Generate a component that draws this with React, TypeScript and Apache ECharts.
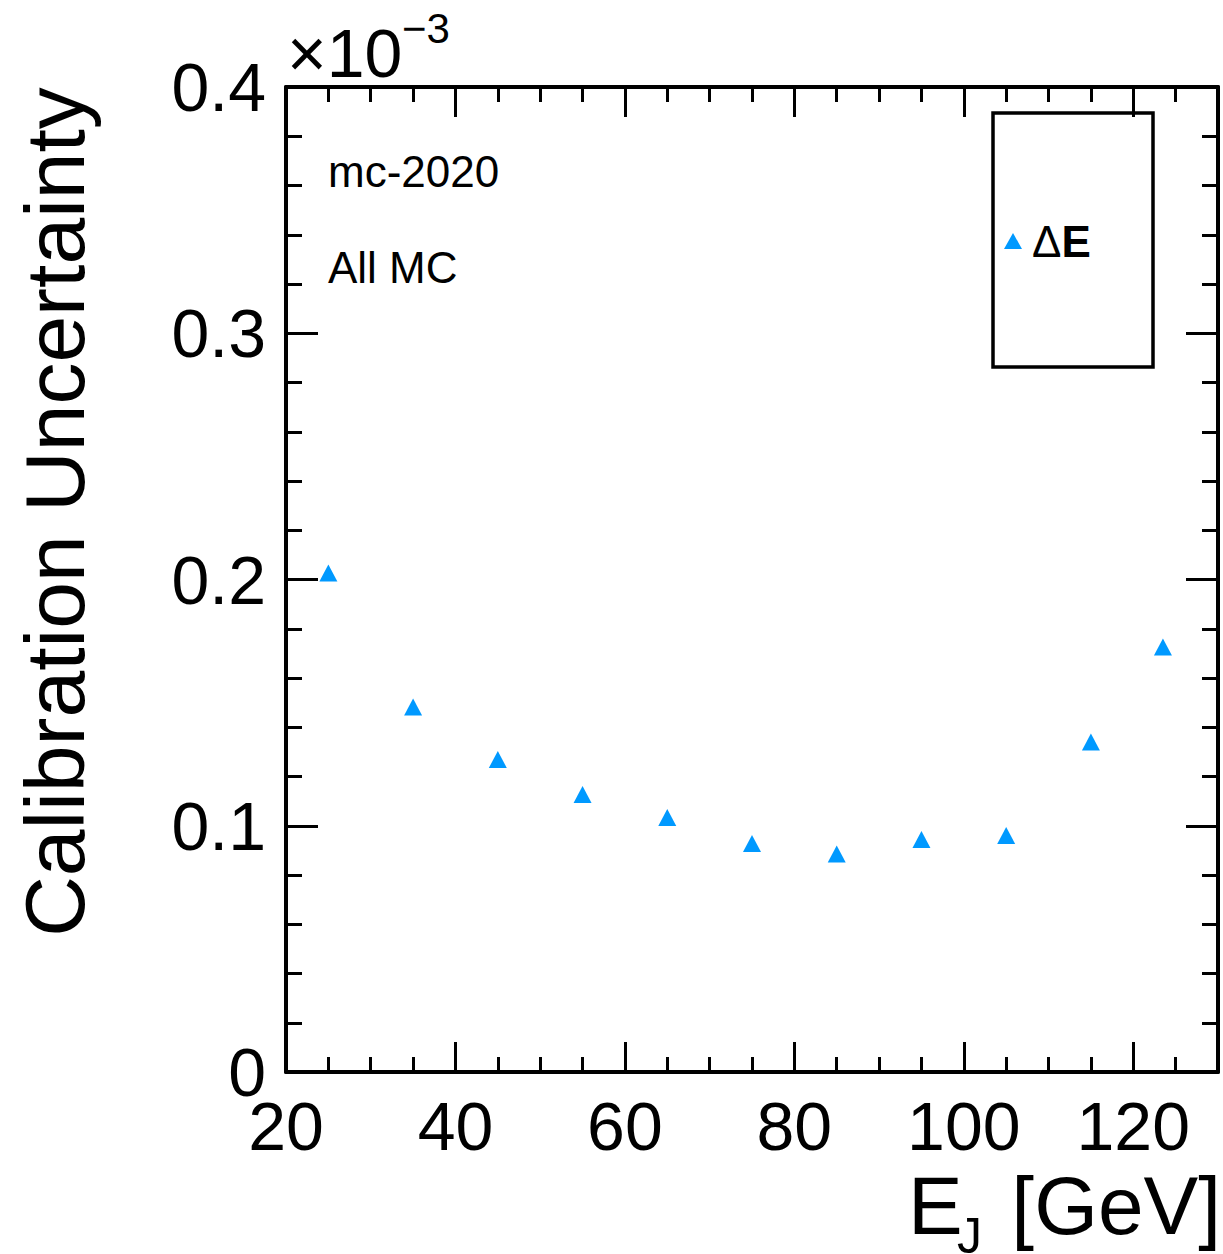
import React, { useEffect, useRef } from "react";
import * as echarts from "echarts";

// Jet energy bins [GeV]
const energyBins = [25, 35, 45, 55, 65, 75, 85, 95, 105, 115, 123.5];
// Calibration uncertainty (in units of 1e-3)
const deltaE = [0.2026, 0.1482, 0.1269, 0.1127, 0.1034, 0.0928, 0.0885, 0.0944, 0.096, 0.134, 0.1726];
const xTickLabels = ["20", "40", "60", "80", "100", "120"];
const yTickLabels = ["0", "0.1", "0.2", "0.3", "0.4"];

const FONT = "'Liberation Sans', Arial, Helvetica, sans-serif";
const BLUE = "#0099ff";

export default function App() {
  const ref = useRef<HTMLDivElement>(null);
  useEffect(() => {
    if (!ref.current) return;
    const chart = echarts.init(ref.current, null, { renderer: "svg" });
    const line = { show: true, onZero: false, lineStyle: { color: "#000", width: 4 } };
    const majorX = (pos: string, labels: boolean) => ({
      gridIndex: 0, type: "value", position: pos, min: 20, max: 130, interval: 20,
      axisLine: line,
      axisTick: { show: true, inside: true, length: 30, lineStyle: { color: "#000", width: 3 } },
      axisLabel: labels
        ? {
            show: true, fontSize: 68, fontFamily: FONT, color: "#000", margin: 20,
            formatter: (v: number) => (xTickLabels.includes(String(v)) ? String(v) : ""),
          }
        : { show: false },
      splitLine: { show: false },
    });
    const minorX = (pos: string) => ({
      gridIndex: 1, type: "value", position: pos, min: 20, max: 130, interval: 5,
      axisLine: { show: false, onZero: false },
      axisTick: { show: true, inside: true, length: 15, lineStyle: { color: "#000", width: 3 } },
      axisLabel: { show: false },
      splitLine: { show: false },
    });
    const majorY = (pos: string, labels: boolean) => ({
      gridIndex: 0, type: "value", position: pos, min: 0, max: 0.4, interval: 0.1,
      axisLine: line,
      axisTick: { show: true, inside: true, length: 32, lineStyle: { color: "#000", width: 3 } },
      axisLabel: labels
        ? {
            show: true, fontSize: 68, fontFamily: FONT, color: "#000", margin: 20,
            formatter: (v: number) => {
              const s = String(Math.round(v * 10) / 10);
              return yTickLabels.includes(s) ? s : "";
            },
          }
        : { show: false },
      splitLine: { show: false },
    });
    const minorY = (pos: string) => ({
      gridIndex: 1, type: "value", position: pos, min: 0, max: 0.4, interval: 0.02,
      axisLine: { show: false, onZero: false },
      axisTick: { show: true, inside: true, length: 16, lineStyle: { color: "#000", width: 3 } },
      axisLabel: { show: false },
      splitLine: { show: false },
    });
    const gridBox = { left: 286, top: 87, right: 5, bottom: 182, containLabel: false };

    chart.setOption({
      animation: false,
      backgroundColor: "#fff",
      grid: [gridBox, gridBox],
      xAxis: [majorX("bottom", true), majorX("top", false), minorX("bottom"), minorX("top")],
      yAxis: [majorY("left", true), majorY("right", false), minorY("left"), minorY("right")],
      legend: {
        show: true,
        left: 1004,
        top: 219,
        orient: "vertical",
        itemWidth: 18,
        itemHeight: 16,
        itemGap: 0,
        padding: 0,
        icon: "triangle",
        data: [{ name: "ΔE", icon: "triangle" }],
        formatter: () => "{a|Δ}{b|E}",
        textStyle: {
          padding: [0, 0, 0, 5],
          rich: {
            a: { fontSize: 44, fontFamily: FONT, fontWeight: "normal", color: "#000", lineHeight: 44 },
            b: { fontSize: 44, fontFamily: FONT, fontWeight: "bold", color: "#000", lineHeight: 44 },
          },
        },
      },
      series: [
        {
          name: "ΔE",
          type: "scatter",
          xAxisIndex: 0,
          yAxisIndex: 0,
          symbol: "triangle",
          symbolSize: [18, 17],
          itemStyle: { color: BLUE, opacity: 1 },
          data: energyBins.map((x, i) => [x, deltaE[i]]),
        },
      ],
      graphic: [
        {
          type: "rect",
          shape: { x: 993, y: 113, width: 160, height: 254 },
          style: { fill: "none", stroke: "#000", lineWidth: 3.5 },
          z: 10,
        },
        {
          type: "text",
          x: 55,
          y: 512,
          rotation: Math.PI / 2,
          style: {
            text: "Calibration Uncertainty",
            font: `84px ${FONT}`,
            fill: "#000",
            align: "center",
            verticalAlign: "middle",
          },
        },
        {
          type: "text",
          x: 908,
          y: 1205,
          style: { text: "E", font: `82px ${FONT}`, fill: "#000", align: "left", verticalAlign: "middle" },
        },
        {
          type: "text",
          x: 957,
          y: 1236,
          style: { text: "J", font: `50px ${FONT}`, fill: "#000", align: "left", verticalAlign: "middle" },
        },
        {
          type: "text",
          x: 1221,
          y: 1205,
          style: { text: "[GeV]", font: `82px ${FONT}`, fill: "#000", align: "right", verticalAlign: "middle" },
        },
        {
          type: "text",
          x: 287,
          y: 53,
          style: { text: "×10", font: `68px ${FONT}`, fill: "#000", align: "left", verticalAlign: "middle" },
        },
        {
          type: "text",
          x: 402,
          y: 28,
          style: { text: "−3", font: `42px ${FONT}`, fill: "#000", align: "left", verticalAlign: "middle" },
        },
        {
          type: "text",
          x: 328,
          y: 171,
          style: { text: "mc-2020", font: `44px ${FONT}`, fill: "#000", align: "left", verticalAlign: "middle" },
        },
        {
          type: "text",
          x: 328,
          y: 267,
          style: { text: "All MC", font: `44px ${FONT}`, fill: "#000", align: "left", verticalAlign: "middle" },
        },
      ],
    });
    return () => chart.dispose();
  }, []);
  return (
    <div
      ref={ref}
      style={{ position: "absolute", left: 0, top: 0, width: 1223, height: 1254, background: "#fff" }}
    />
  );
}
